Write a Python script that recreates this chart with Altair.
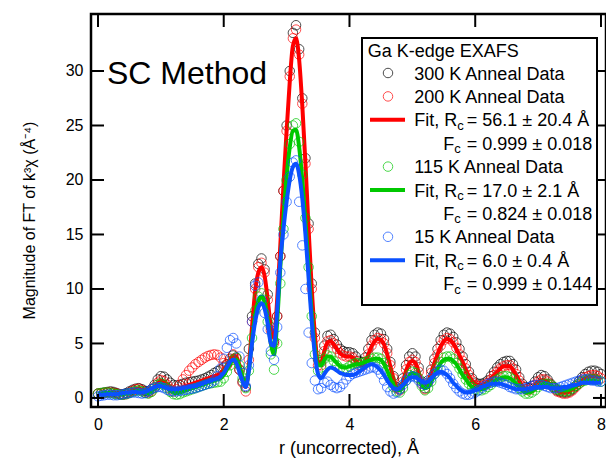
import altair as alt
import pandas as pd

# ---------------- data ----------------
R = [round(i * 0.05, 2) for i in range(161)]  # r grid, 0 .. 8 Å

D300 = [0.4, 0.45, 0.5, 0.55, 0.6, 0.55, 0.45, 0.35, 0.35, 0.45,
        0.6, 0.75, 0.85, 0.9, 0.8, 0.65, 0.6, 0.8, 1.2, 1.7,
        2.0, 1.95, 1.7, 1.4, 1.2, 1.15, 1.2, 1.3, 1.4, 1.45,
        1.5, 1.55, 1.6, 1.7, 1.8, 1.95, 2.1, 2.3, 2.45, 2.6,
        2.8, 3.1, 3.6, 3.9, 3.7, 2.6, 1.5, 1.0, 4.5, 7.5,
        10.5, 12.3, 12.8, 11.8, 9.5, 6.5, 5.2, 7.5, 13.0, 19.0,
        25.0, 30.0, 33.5, 34.2, 32.0, 27.5, 22.0, 16.0, 10.5, 6.0,
        3.5, 3.3, 4.8, 5.7, 5.8, 5.4, 4.9, 4.5, 4.3, 4.2,
        4.2, 4.1, 3.8, 3.4, 3.3, 3.7, 4.5, 5.3, 5.8, 6.0,
        5.9, 5.4, 4.5, 3.3, 2.0, 1.0, 0.8, 1.8, 3.0, 3.8,
        4.1, 3.8, 2.8, 1.5, 0.9, 1.6, 2.6, 3.6, 4.5, 5.3,
        5.8, 6.0, 5.9, 5.6, 5.1, 4.5, 3.8, 3.1, 2.4, 1.8,
        1.4, 1.3, 1.3, 1.4, 1.6, 2.0, 2.4, 2.8, 3.1, 3.3,
        3.4, 3.4, 3.1, 2.6, 1.9, 1.3, 1.0, 0.9, 1.1, 1.5,
        1.9, 2.1, 2.0, 1.7, 1.3, 1.0, 0.7, 0.6, 0.5, 0.5,
        0.6, 0.8, 1.1, 1.5, 1.9, 2.2, 2.4, 2.5, 2.5, 2.4,
        2.2]

D200 = [0.4, 0.4, 0.45, 0.5, 0.5, 0.45, 0.4, 0.35, 0.3, 0.35,
        0.5, 0.65, 0.8, 0.85, 0.7, 0.5, 0.45, 0.6, 1.0, 1.4,
        1.65, 1.55, 1.2, 0.8, 0.6, 0.8, 1.2, 1.7, 2.1, 2.5,
        2.8, 3.1, 3.3, 3.5, 3.7, 3.85, 3.95, 4.0, 3.95, 3.7,
        3.2, 3.0, 3.4, 4.0, 3.6, 2.6, 1.4, 0.6, 3.5, 7.0,
        10.0, 12.0, 12.4, 11.5, 9.0, 6.2, 5.0, 7.5, 13.0, 19.0,
        24.5, 29.5, 33.0, 33.8, 31.5, 27.0, 21.5, 15.5, 10.0, 5.5,
        3.0, 3.0, 4.3, 5.2, 5.3, 5.0, 4.5, 4.1, 3.9, 3.8,
        3.8, 3.7, 3.4, 3.0, 2.9, 3.3, 4.0, 4.8, 5.3, 5.5,
        5.4, 5.0, 4.1, 3.0, 1.8, 0.9, 0.7, 1.5, 2.6, 3.3,
        3.5, 3.3, 2.4, 1.3, 0.8, 1.4, 2.3, 3.2, 4.0, 4.8,
        5.3, 5.5, 5.4, 5.1, 4.6, 4.0, 3.4, 2.7, 2.1, 1.6,
        1.2, 1.1, 1.1, 1.2, 1.4, 1.7, 2.1, 2.4, 2.7, 2.9,
        3.0, 3.0, 2.7, 2.2, 1.6, 1.1, 0.8, 0.7, 0.9, 1.2,
        1.5, 1.7, 1.7, 1.5, 1.2, 0.9, 0.6, 0.5, 0.4, 0.4,
        0.5, 0.7, 1.0, 1.3, 1.6, 1.9, 2.0, 2.1, 2.1, 2.0,
        1.8]

F200 = [0.3, 0.35, 0.4, 0.45, 0.5, 0.5, 0.45, 0.4, 0.4, 0.45,
        0.55, 0.7, 0.8, 0.85, 0.75, 0.6, 0.55, 0.7, 1.0, 1.35,
        1.55, 1.5, 1.25, 1.0, 0.85, 0.85, 0.9, 1.0, 1.1, 1.2,
        1.3, 1.4, 1.5, 1.6, 1.7, 1.8, 1.9, 2.0, 2.1, 2.3,
        2.6, 3.0, 3.5, 3.9, 3.8, 3.0, 1.8, 1.0, 3.0, 6.5,
        9.8, 11.5, 12.0, 11.2, 9.0, 6.5, 5.5, 9.0, 14.0, 19.5,
        24.5, 29.0, 32.3, 33.0, 31.0, 26.8, 21.5, 15.5, 10.0, 5.8,
        3.2, 3.3, 4.3, 5.1, 5.2, 4.9, 4.5, 4.1, 3.9, 3.8,
        3.8, 3.7, 3.4, 3.1, 3.0, 3.3, 4.0, 4.7, 5.2, 5.4,
        5.3, 4.9, 4.0, 2.9, 1.8, 1.0, 0.8, 1.5, 2.5, 3.2,
        3.4, 3.2, 2.4, 1.4, 0.9, 1.4, 2.3, 3.2, 4.0, 4.7,
        5.2, 5.4, 5.3, 5.0, 4.5, 3.9, 3.3, 2.6, 2.0, 1.6,
        1.3, 1.2, 1.2, 1.3, 1.5, 1.8, 2.1, 2.4, 2.7, 2.9,
        2.9, 2.9, 2.6, 2.1, 1.6, 1.1, 0.8, 0.7, 0.9, 1.2,
        1.5, 1.6, 1.6, 1.5, 1.2, 0.9, 0.7, 0.5, 0.5, 0.5,
        0.6, 0.8, 1.0, 1.3, 1.6, 1.8, 1.9, 2.0, 2.0, 1.9,
        1.8]

D115 = [0.4, 0.45, 0.5, 0.5, 0.45, 0.4, 0.35, 0.3, 0.3, 0.35,
        0.45, 0.55, 0.65, 0.7, 0.6, 0.45, 0.4, 0.55, 0.9, 1.2,
        1.35, 1.2, 0.9, 0.55, 0.35, 0.3, 0.35, 0.5, 0.6, 0.7,
        0.8, 0.9, 1.0, 1.1, 1.2, 1.3, 1.35, 1.4, 1.45, 1.5,
        1.8, 2.4, 3.0, 3.5, 3.7, 3.0, 1.8, 0.9, 2.5, 5.5,
        8.0, 9.3, 9.6, 9.0, 7.0, 4.0, 2.6, 5.0, 10.5, 15.5,
        20.0, 23.3, 25.0, 25.2, 23.5, 20.5, 16.5, 12.0, 7.5, 4.0,
        2.5, 2.8, 3.6, 3.9, 3.8, 3.4, 3.0, 2.7, 2.6, 2.7,
        2.9, 3.1, 3.2, 3.2, 3.2, 3.3, 3.4, 3.6, 3.7, 3.7,
        3.6, 3.2, 2.5, 1.7, 1.0, 0.6, 0.5, 0.9, 1.6, 2.1,
        2.4, 2.3, 1.8, 1.1, 0.7, 0.9, 1.5, 2.2, 2.8, 3.3,
        3.7, 3.8, 3.8, 3.6, 3.2, 2.7, 2.2, 1.7, 1.3, 1.0,
        0.8, 0.7, 0.7, 0.8, 1.0, 1.2, 1.5, 1.7, 1.9, 2.0,
        2.0, 1.9, 1.7, 1.3, 0.9, 0.6, 0.4, 0.4, 0.5, 0.7,
        1.0, 1.2, 1.3, 1.3, 1.2, 1.0, 0.8, 0.7, 0.6, 0.6,
        0.7, 0.9, 1.1, 1.3, 1.5, 1.6, 1.7, 1.7, 1.7, 1.6,
        1.5]

F115 = [0.35, 0.4, 0.45, 0.45, 0.45, 0.4, 0.35, 0.35, 0.35, 0.4,
        0.45, 0.55, 0.6, 0.65, 0.6, 0.5, 0.45, 0.6, 0.85, 1.1,
        1.25, 1.15, 0.9, 0.65, 0.5, 0.45, 0.5, 0.6, 0.7, 0.8,
        0.9, 1.0, 1.1, 1.2, 1.3, 1.4, 1.5, 1.6, 1.7, 1.8,
        2.1, 2.6, 3.1, 3.5, 3.5, 2.9, 1.9, 1.2, 2.6, 5.3,
        7.6, 8.9, 9.3, 8.8, 7.2, 5.0, 4.0, 7.0, 12.0, 16.5,
        20.3, 23.0, 24.5, 24.6, 23.0, 20.0, 16.2, 12.0, 7.7, 4.5,
        3.0, 3.0, 3.5, 3.8, 3.8, 3.5, 3.2, 2.9, 2.8, 2.8,
        2.9, 3.0, 3.1, 3.1, 3.2, 3.3, 3.4, 3.5, 3.6, 3.6,
        3.5, 3.1, 2.5, 1.8, 1.2, 0.8, 0.7, 1.0, 1.6, 2.0,
        2.3, 2.2, 1.8, 1.2, 0.9, 1.0, 1.5, 2.1, 2.7, 3.2,
        3.5, 3.6, 3.6, 3.4, 3.1, 2.6, 2.1, 1.7, 1.3, 1.0,
        0.8, 0.8, 0.8, 0.9, 1.1, 1.3, 1.5, 1.7, 1.8, 1.9,
        1.9, 1.8, 1.6, 1.3, 1.0, 0.7, 0.5, 0.5, 0.6, 0.8,
        1.0, 1.2, 1.3, 1.3, 1.2, 1.0, 0.9, 0.8, 0.7, 0.7,
        0.8, 0.9, 1.1, 1.3, 1.4, 1.5, 1.6, 1.6, 1.6, 1.5,
        1.5]

D15 = [0.15, 0.2, 0.25, 0.3, 0.3, 0.25, 0.25, 0.3, 0.35, 0.4,
       0.45, 0.5, 0.5, 0.45, 0.4, 0.45, 0.6, 0.8, 0.95, 1.0,
       1.0, 0.9, 0.75, 0.65, 0.6, 0.6, 0.65, 0.7, 0.75, 0.8,
       0.85, 0.9, 1.0, 1.1, 1.2, 1.3, 1.4, 1.6, 2.0, 2.7,
       3.6, 4.6, 5.3, 5.5, 5.0, 3.8, 2.3, 1.1, 3.0, 7.0,
       10.3, 10.6, 9.0, 7.8, 6.3, 4.3, 3.5, 6.5, 11.5, 15.0,
       18.0, 20.3, 21.6, 21.8, 18.0, 14.0, 10.0, 6.0, 3.2, 1.6,
       0.8, 0.9, 1.4, 1.5, 1.2, 1.0, 0.9, 1.0, 1.3, 1.7,
       2.0, 2.2, 2.3, 2.4, 2.5, 2.6, 2.7, 2.8, 2.8, 2.6,
       2.2, 1.6, 1.0, 0.6, 0.4, 0.5, 0.8, 1.2, 1.6, 1.9,
       2.0, 1.9, 1.6, 1.3, 1.2, 1.4, 1.8, 2.2, 2.5, 2.6,
       2.5, 2.2, 1.8, 1.3, 0.9, 0.6, 0.4, 0.3, 0.3, 0.4,
       0.5, 0.7, 0.9, 1.1, 1.3, 1.4, 1.5, 1.5, 1.4, 1.3,
       1.2, 1.0, 0.9, 0.8, 0.8, 0.8, 0.9, 1.0, 1.1, 1.2,
       1.2, 1.2, 1.1, 1.0, 0.9, 0.9, 0.9, 1.0, 1.1, 1.2,
       1.3, 1.4, 1.5, 1.6, 1.7, 1.7, 1.7, 1.6, 1.6, 1.5,
       1.5]

F15 = [0.3, 0.3, 0.3, 0.35, 0.35, 0.35, 0.35, 0.4, 0.45, 0.5,
       0.5, 0.55, 0.55, 0.5, 0.5, 0.55, 0.7, 0.85, 1.0, 1.1,
       1.1, 1.0, 0.9, 0.8, 0.8, 0.8, 0.85, 0.9, 0.95, 1.0,
       1.05, 1.1, 1.2, 1.3, 1.4, 1.5, 1.6, 1.7, 1.8, 2.0,
       2.3, 2.8, 3.3, 3.5, 3.2, 2.4, 1.5, 1.0, 2.5, 5.0,
       7.0, 8.3, 8.7, 8.2, 6.8, 5.0, 4.8, 8.0, 12.5, 15.5,
       18.0, 20.0, 21.2, 21.5, 20.5, 18.3, 15.0, 11.0, 7.0, 4.0,
       2.2, 1.8, 2.2, 2.6, 2.8, 2.7, 2.5, 2.3, 2.2, 2.1,
       2.1, 2.1, 2.2, 2.4, 2.6, 2.8, 3.0, 3.1, 3.0, 2.8,
       2.5, 2.1, 1.6, 1.2, 0.9, 0.8, 0.9, 1.2, 1.5, 1.8,
       1.9, 1.9, 1.7, 1.5, 1.4, 1.5, 1.8, 2.1, 2.3, 2.4,
       2.3, 2.1, 1.8, 1.4, 1.1, 0.8, 0.6, 0.5, 0.5, 0.6,
       0.7, 0.8, 1.0, 1.1, 1.2, 1.3, 1.3, 1.3, 1.3, 1.2,
       1.1, 1.0, 0.9, 0.8, 0.8, 0.8, 0.8, 0.9, 0.9, 1.0,
       1.0, 1.0, 1.0, 1.0, 0.9, 0.9, 0.9, 0.9, 1.0, 1.0,
       1.1, 1.2, 1.2, 1.3, 1.4, 1.4, 1.4, 1.4, 1.4, 1.4,
       1.4]

X_TICKS = [0, 2, 4, 6, 8]
Y_TICKS = [0, 5, 10, 15, 20, 25, 30]

X_TITLE = "r (uncorrected), Å"
Y_TITLE = "Magnitude of FT of k³χ (Å⁻⁴)"
PANEL_TEXT = "SC Method"
LEGEND_TITLE = "Ga K-edge EXAFS"
DATA_LABELS = ["300 K Anneal Data", "200 K Anneal Data", "115 K Anneal Data", "15 K Anneal Data"]
FIT_R = ["= 56.1 ± 20.4 Å", "= 17.0 ± 2.1 Å", "= 6.0 ± 0.4 Å"]
FIT_F = ["= 0.999 ± 0.018", "= 0.824 ± 0.018", "= 0.999 ± 0.144"]

BLACK, RED, GREEN, BLUE = "#000000", "#ff0000", "#00c800", "#0a50ff"

# ---------------- layout ----------------
W, H = 515, 393
FONT = "Liberation Sans"
XMIN, XMAX = -0.111, 8.08
YMIN, YMAX = -0.83, 35.23
xs = alt.Scale(domain=[XMIN, XMAX], nice=False, zero=False)
ys = alt.Scale(domain=[YMIN, YMAX], nice=False, zero=False)
TL = 13  # tick length in px
TLX = TL * (XMAX - XMIN) / W
TLY = TL * (YMAX - YMIN) / H

x_axis = alt.Axis(values=X_TICKS, ticks=False, tickSize=0, domain=False, grid=False,
                  labelFontSize=16, labelPadding=9, labelFont=FONT, labelColor="black",
                  title=X_TITLE, titleFont=FONT, titleFontSize=18, titleFontWeight="normal",
                  titleColor="black", titleX=W / 2, titleY=46, titleBaseline="alphabetic",
                  titleAlign="center", format="d")
y_axis = alt.Axis(values=Y_TICKS, ticks=False, tickSize=0, domain=False, grid=False,
                  labelFontSize=16, labelPadding=8, labelFont=FONT, labelColor="black",
                  title=Y_TITLE, titleFont=FONT, titleFontSize=16, titleFontWeight="normal",
                  titleColor="black", titleX=-57, titleY=206, titleAngle=270,
                  titleBaseline="alphabetic", titleAlign="center", format="d")


def X(f):
    return alt.X(f, scale=xs, axis=x_axis)


def Y(f):
    return alt.Y(f, scale=ys, axis=y_axis)


def sdf(vals):
    return pd.DataFrame({"r": R, "v": vals})


def pts(vals, color):
    return alt.Chart(sdf(vals)).mark_point(
        shape="circle", filled=False, size=90, strokeWidth=1, color=color, clip=True
    ).encode(x=X("r:Q"), y=Y("v:Q"))


def fit(vals, color):
    return alt.Chart(sdf(vals)).mark_line(
        strokeWidth=4, color=color, interpolate="monotone", clip=True
    ).encode(x=X("r:Q"), y=Y("v:Q"))


# inward ticks on all four sides (positions from the tick lists + scale domain)
xb = pd.DataFrame({"t": X_TICKS, "a": YMIN, "b": YMIN + TLY})
xtp = pd.DataFrame({"t": X_TICKS, "a": YMAX, "b": YMAX - TLY})
yl = pd.DataFrame({"t": Y_TICKS, "a": XMIN, "b": XMIN + TLX})
yr = pd.DataFrame({"t": Y_TICKS, "a": XMAX, "b": XMAX - TLX})
rule = dict(strokeWidth=2, color="black")
tick_layers = [
    alt.Chart(xb).mark_rule(**rule).encode(x=X("t:Q"), y=Y("a:Q"), y2="b:Q"),
    alt.Chart(xtp).mark_rule(**rule).encode(x=X("t:Q"), y=Y("a:Q"), y2="b:Q"),
    alt.Chart(yl).mark_rule(**rule).encode(y=Y("t:Q"), x=X("a:Q"), x2="b:Q"),
    alt.Chart(yr).mark_rule(**rule).encode(y=Y("t:Q"), x=X("a:Q"), x2="b:Q"),
]

one = pd.DataFrame({"k": [0]})


def txt(x, y, s, size=18):
    return alt.Chart(one).mark_text(
        text=s, font=FONT, fontSize=size, align="left", baseline="alphabetic", color="black"
    ).encode(x=alt.value(x), y=alt.value(y))


def lcircle(y, color):
    return alt.Chart(one).mark_point(
        shape="circle", filled=False, size=90, strokeWidth=1, color=color
    ).encode(x=alt.value(297), y=alt.value(y))


def lline(y, color):
    return alt.Chart(one).mark_rule(strokeWidth=4, color=color).encode(
        x=alt.value(279), x2=alt.value(314), y=alt.value(y))


TX, FX, EQX = 323.3, 352.3, 375.7
rows = [65.5 + 23.4 * k for k in range(10)]

legend = [
    alt.Chart(one).mark_rect(fill="white", stroke="black", strokeWidth=2).encode(
        x=alt.value(271), x2=alt.value(506), y=alt.value(24), y2=alt.value(291)),
    txt(276.7, 43, LEGEND_TITLE),
]
for lab, yb, col in [(DATA_LABELS[0], rows[0], BLACK), (DATA_LABELS[1], rows[1], RED),
                     (DATA_LABELS[2], rows[4], GREEN), (DATA_LABELS[3], rows[7], BLUE)]:
    legend += [lcircle(yb - 6.5, col), txt(TX, yb, lab)]
for i, (yb, col) in enumerate([(rows[2], RED), (rows[5], GREEN), (rows[8], BLUE)]):
    legend += [lline(yb - 6.5, col), txt(TX, yb, "Fit, R"), txt(TX + 43, yb + 3.5, "c", 13),
               txt(EQX, yb, FIT_R[i])]
    yf = yb + 23.4
    legend += [txt(FX, yf, "F"), txt(FX + 11, yf + 3.5, "c", 13), txt(EQX, yf, FIT_F[i])]

panel = alt.Chart(one).mark_text(
    text=PANEL_TEXT, font=FONT, fontSize=32, align="left", baseline="alphabetic", color="black"
).encode(x=alt.value(16), y=alt.value(70))

layers = [pts(D300, BLACK), pts(D200, RED), fit(F200, RED), pts(D115, GREEN), fit(F115, GREEN),
          pts(D15, BLUE), fit(F15, BLUE)] + tick_layers + [panel] + legend

chart = alt.layer(*layers).properties(
    width=W, height=H,
    padding={"left": 83, "top": 6, "right": 0, "bottom": 51},
    autosize=alt.AutoSizeParams(type="none"),
    background="white",
).configure_view(stroke="black", strokeWidth=2.5)

chart.save("out.html", embed_options={"renderer": "svg", "actions": False})
